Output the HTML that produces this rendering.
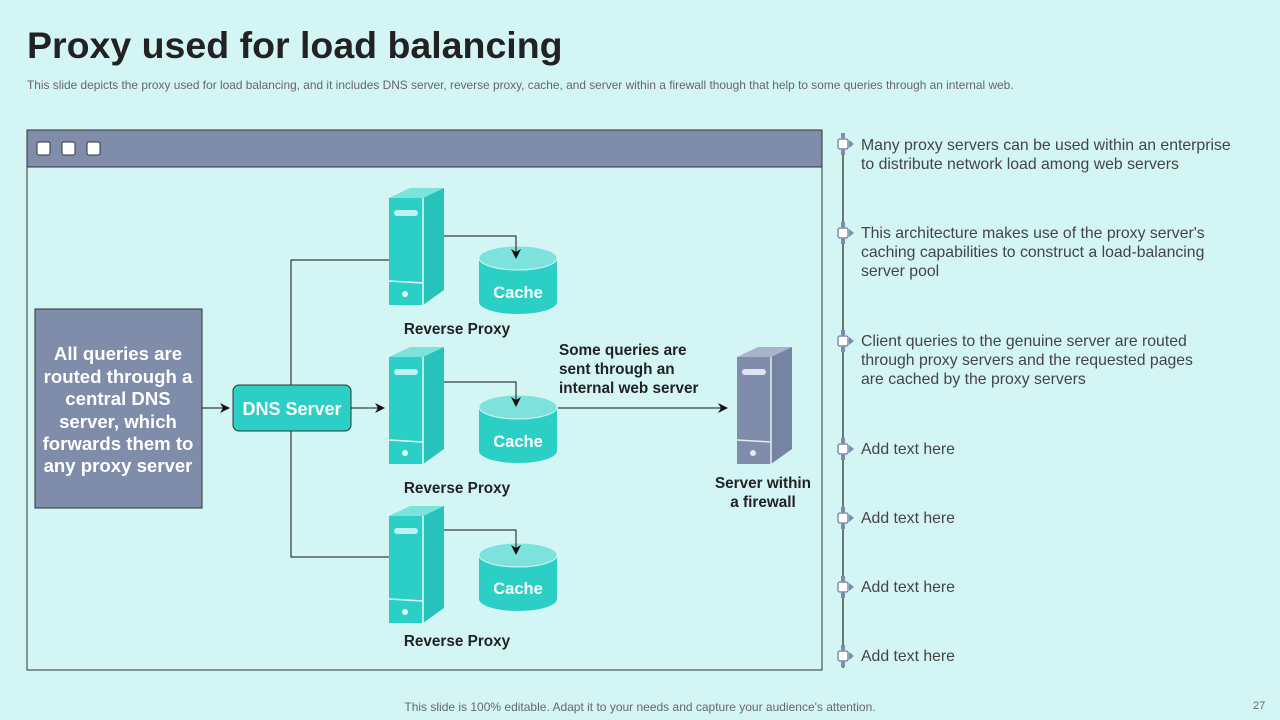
<!DOCTYPE html>
<html><head><meta charset="utf-8"><style>
body{margin:0;width:1280px;height:720px;background:#d3f6f4;font-family:"Liberation Sans",sans-serif;overflow:hidden;position:relative}
h1{position:absolute;left:27px;top:24px;margin:0;font-size:37.5px;font-weight:bold;color:#222}
.sub{position:absolute;left:27px;top:78px;font-size:11.9px;color:#666}
.foot{position:absolute;left:0;width:1280px;top:700px;text-align:center;font-size:12px;color:#666}
.pg{position:absolute;left:1253px;top:700px;font-size:11px;color:#666}
.t{position:absolute;left:861px;font-size:15.8px;color:#444;line-height:19px}
</style></head><body>
<h1>Proxy used for load balancing</h1>
<div class="sub">This slide depicts the proxy used for load balancing, and it includes DNS server, reverse proxy,  cache, and server within a firewall though that help to some queries through an internal web.</div>
<svg width="1280" height="720" style="position:absolute;left:0;top:0">
<defs>
<marker id="a" markerWidth="10" markerHeight="10" refX="9" refY="5" orient="auto" markerUnits="userSpaceOnUse"><path d="M0,0 L10,5 L0,10 L3,5z" fill="#111"/></marker>
<g id="srv"><polygon points="0,10 21,0 55,0 34,10" fill="#7ee2dc"/><rect x="0" y="10" width="34" height="107" fill="#2bcfc6"/><polygon points="34,10 55,0 55,102 34,117" fill="#27c2ba"/><line x1="34" y1="10" x2="34" y2="117" stroke="#e0faf8" stroke-width="1.5"/><rect x="5" y="22" width="24" height="6" rx="3" fill="#bff2ee"/><line x1="0" y1="93" x2="34" y2="95" stroke="#e0faf8" stroke-width="1.5"/><circle cx="16" cy="106" r="3" fill="#e0faf8"/></g>
<g id="srvg"><polygon points="0,10 21,0 55,0 34,10" fill="#a9b4cc"/><rect x="0" y="10" width="34" height="107" fill="#7f8dab"/><polygon points="34,10 55,0 55,102 34,117" fill="#7584a3"/><line x1="34" y1="10" x2="34" y2="117" stroke="#e6ebf3" stroke-width="1.5"/><rect x="5" y="22" width="24" height="6" rx="3" fill="#dfe4ee"/><line x1="0" y1="93" x2="34" y2="95" stroke="#e6ebf3" stroke-width="1.5"/><circle cx="16" cy="106" r="3" fill="#e6ebf3"/></g>
<g id="cyl"><path d="M-39,0 v44 a39,12 0 0 0 78,0 v-44z" fill="#2bcfc6"/><ellipse cx="0" cy="0" rx="39" ry="12" fill="#7ee2dc" stroke="#d3f6f4" stroke-width="1"/></g>
</defs>
<rect x="27" y="130" width="795" height="540" fill="none" stroke="#333" stroke-width="1"/>
<rect x="27" y="130" width="795" height="37" fill="#7f8dab" stroke="#333" stroke-width="1"/>
<rect x="37" y="142" width="13" height="13" rx="2" fill="#fff" stroke="#333"/>
<rect x="62" y="142" width="13" height="13" rx="2" fill="#fff" stroke="#333"/>
<rect x="87" y="142" width="13" height="13" rx="2" fill="#fff" stroke="#333"/>
<rect x="35" y="309" width="167" height="199" fill="#7f8dab" stroke="#333"/>
<g font-weight="bold" fill="#fff" font-size="18.6" text-anchor="middle"><text x="118" y="360">All queries are</text><text x="118" y="383">routed through a</text><text x="118" y="405">central DNS</text><text x="118" y="428">server, which</text><text x="118" y="450">forwards them to</text><text x="118" y="472">any proxy server</text></g>
<line x1="202" y1="408" x2="229" y2="408" stroke="#111" marker-end="url(#a)"/>
<polyline points="389,260 291,260 291,557 389,557" fill="none" stroke="#111"/>
<rect x="233" y="385" width="118" height="46" rx="6" fill="#2bcfc6" stroke="#333"/>
<text x="292" y="415" font-size="18" font-weight="bold" fill="#fff" text-anchor="middle">DNS Server</text>
<line x1="351" y1="408" x2="384" y2="408" stroke="#111" marker-end="url(#a)"/>
<use href="#srv" x="389" y="188"/><use href="#srv" x="389" y="347"/><use href="#srv" x="389" y="506"/>
<use href="#cyl" x="518" y="258"/><use href="#cyl" x="518" y="407"/><use href="#cyl" x="518" y="555"/>
<polyline points="444,236 516,236 516,258" fill="none" stroke="#111" marker-end="url(#a)"/>
<polyline points="444,382 516,382 516,406" fill="none" stroke="#111" marker-end="url(#a)"/>
<polyline points="444,530 516,530 516,554" fill="none" stroke="#111" marker-end="url(#a)"/>
<g font-weight="bold" fill="#fff" font-size="16.5" text-anchor="middle"><text x="518" y="298">Cache</text><text x="518" y="447">Cache</text><text x="518" y="594">Cache</text></g>
<g font-weight="bold" fill="#222" font-size="15.3" text-anchor="middle"><text x="457" y="334">Reverse Proxy</text><text x="457" y="493">Reverse Proxy</text><text x="457" y="646">Reverse Proxy</text><text x="763" y="488">Server within</text><text x="763" y="507">a firewall</text></g>
<g font-weight="bold" fill="#222" font-size="15.3"><text x="559" y="355">Some queries are</text><text x="559" y="374">sent through an</text><text x="559" y="393">internal web server</text></g>
<line x1="558" y1="408" x2="727" y2="408" stroke="#111" marker-end="url(#a)"/>
<use href="#srvg" x="737" y="347"/>
<line x1="843" y1="133" x2="843" y2="668" stroke="#222" stroke-width="1.2"/>
<g fill="#fff" stroke="#7f8dab" stroke-width="1.5">
<rect x="838" y="139" width="10" height="10" rx="2"/><rect x="838" y="228" width="10" height="10" rx="2"/><rect x="838" y="336" width="10" height="10" rx="2"/><rect x="838" y="444" width="10" height="10" rx="2"/><rect x="838" y="513" width="10" height="10" rx="2"/><rect x="838" y="582" width="10" height="10" rx="2"/><rect x="838" y="651" width="10" height="10" rx="2"/></g>
<g fill="#7f8dab"><path d="M849,140 l5,4 l-5,4z"/><path d="M849,229 l5,4 l-5,4z"/><path d="M849,337 l5,4 l-5,4z"/><path d="M849,445 l5,4 l-5,4z"/><path d="M849,514 l5,4 l-5,4z"/><path d="M849,583 l5,4 l-5,4z"/><path d="M849,652 l5,4 l-5,4z"/>
<rect x="841" y="133" width="4" height="5"/><rect x="841" y="150" width="4" height="5"/><rect x="841" y="222" width="4" height="5"/><rect x="841" y="239" width="4" height="5"/><rect x="841" y="330" width="4" height="5"/><rect x="841" y="347" width="4" height="5"/><rect x="841" y="438" width="4" height="5"/><rect x="841" y="455" width="4" height="5"/><rect x="841" y="507" width="4" height="5"/><rect x="841" y="524" width="4" height="5"/><rect x="841" y="576" width="4" height="5"/><rect x="841" y="593" width="4" height="5"/><rect x="841" y="645" width="4" height="5"/><rect x="841" y="662" width="4" height="5"/></g>
</svg>
<div class="t" style="top:136px">Many proxy servers can be used within an enterprise<br>to distribute network load among web servers</div>
<div class="t" style="top:224px">This architecture makes use of the proxy server's<br>caching capabilities to construct  a load-balancing<br>server pool</div>
<div class="t" style="top:332px">Client queries to the genuine server are routed<br>through proxy servers and the requested pages<br>are cached by the proxy servers</div>
<div class="t" style="top:440px">Add text here</div>
<div class="t" style="top:509px">Add text here</div>
<div class="t" style="top:578px">Add text here</div>
<div class="t" style="top:647px">Add text here</div>
<div class="foot">This slide is 100% editable. Adapt it to your needs and capture your audience's attention.</div>
<div class="pg">27</div>
</body></html>
